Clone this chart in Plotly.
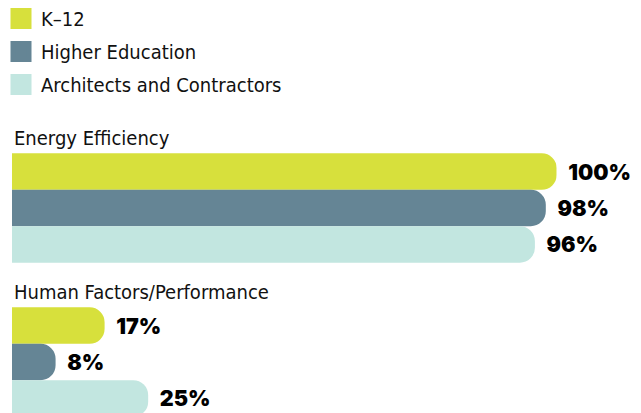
import plotly.graph_objects as go

categories = ["Energy Efficiency", "Human Factors/Performance"]
series_names = ["K\u201312", "Higher Education", "Architects and Contractors"]
k12 = [100, 17]
higher_ed = [98, 8]
architects = [96, 25]
series_values = [k12, higher_ed, architects]
colors = ["#d7e03c", "#658595", "#c2e6e0"]

label_font = "DejaVu Sans Condensed, Roboto, sans-serif"
value_font = "Inter, Roboto, sans-serif"

W, H = 641, 413

fig = go.Figure()
for name, vals, col in zip(series_names, series_values, colors):
    fig.add_trace(go.Bar(
        y=categories, x=vals, orientation="h", name=name,
        marker=dict(color=col, cornerradius=15, line=dict(width=0)),
        texttemplate="\u00a0\u00a0%{x}%", textposition="outside",
        textfont=dict(family=value_font, size=21.5, color="#000000", weight=900),
        constraintext="none", cliponaxis=False, showlegend=False,
        hoverinfo="skip",
    ))

# legend entries (square swatches), one legend box per series for exact spacing
legend_ids = ["legend", "legend2", "legend3"]
legend_tops = [1, 34, 67]  # pixels from top
for name, col, lid in zip(series_names, colors, legend_ids):
    fig.add_trace(go.Scatter(
        x=[None], y=[None], mode="markers", name=name,
        marker=dict(symbol="square", size=16, color=col, line=dict(color=col, width=5)),
        showlegend=True, legend=lid,
    ))

for cat in categories:
    fig.add_annotation(
        x=0, y=cat, xref="x", yref="y", text=cat, showarrow=False,
        xanchor="left", yanchor="middle", yshift=70,
        font=dict(family=label_font, size=20, color="#111111"),
    )

legend_style = dict(xanchor="left", yanchor="top",
                    font=dict(family=label_font, size=20, color="#111111"),
                    bgcolor="rgba(0,0,0,0)")
layout_legends = {}
for lid, top in zip(legend_ids, legend_tops):
    layout_legends[lid] = dict(x=1 / W, y=1 - (top - 2) / H, **legend_style)

fig.update_layout(
    width=W, height=H,
    margin=dict(l=0, r=0, t=0, b=0, autoexpand=False),
    paper_bgcolor="white", plot_bgcolor="white",
    barmode="group", bargap=0.29, bargroupgap=0,
    xaxis=dict(range=[0, 100], visible=False, fixedrange=True,
               domain=[12 / W, 556.7 / W]),
    yaxis=dict(range=[1.3312, -1.3506], visible=False, type="category", fixedrange=True),
    showlegend=True,
    **layout_legends,
)

fig.write_html("out.html",
               config={"displayModeBar": False},
               post_script="document.body.style.margin='0';document.body.style.padding='0';")
